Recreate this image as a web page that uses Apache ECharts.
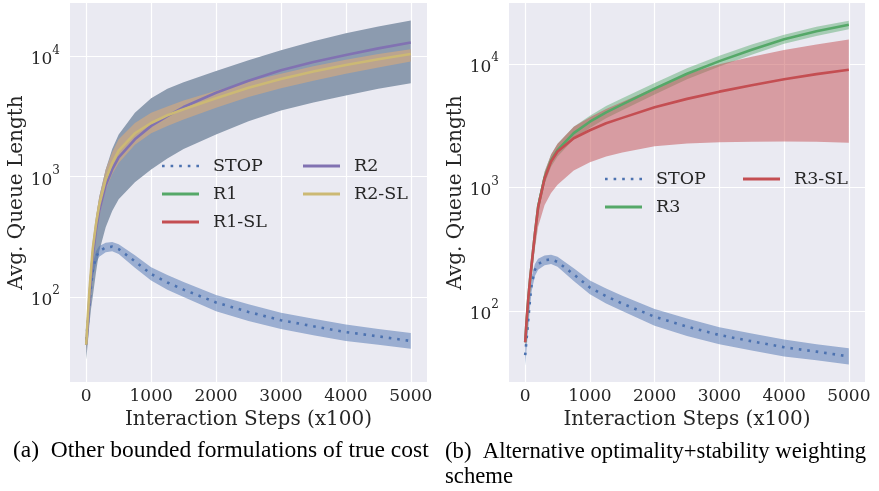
<!DOCTYPE html>
<html>
<head>
<meta charset="utf-8">
<script src="https://cdn.jsdelivr.net/npm/echarts@6/dist/echarts.min.js"></script>
<style>
  html, body { margin: 0; padding: 0; background: #ffffff; }
  #chart { width: 879px; height: 491px; }
</style>
</head>
<body>
<div id="chart"></div>
<script>
// Interaction steps (x100) at which every curve is sampled
const steps = [0, 25, 50, 75, 100, 150, 200, 300, 400, 500, 750, 1000, 1250, 1500, 2000, 2500, 3000, 3500, 4000, 4500, 5000];

// Tick labels
const xTicks = [0, 1000, 2000, 3000, 4000, 5000];
const yTicks = [100, 1000, 10000];

// STOP (shared baseline, both panels)
const stopMean  = [44, 62, 88, 125, 165, 215, 240, 258, 262, 250, 198, 155, 132, 115, 90, 75, 64, 57, 51, 47, 43];
const stopLower = [36, 52, 75, 108, 145, 192, 216, 235, 240, 228, 175, 137, 115, 100, 76, 63, 54, 48, 43, 40, 37];
const stopUpper = [52, 74, 104, 145, 190, 240, 265, 282, 286, 275, 222, 177, 152, 133, 104, 87, 74, 66, 59, 54, 50];

// Panel (a)
const r2Mean    = [40, 60, 100, 150, 220, 360, 520, 850, 1150, 1450, 2050, 2650, 3200, 3800, 5000, 6300, 7700, 9000, 10300, 11700, 13100];
const r2SlMean  = [40, 70, 115, 170, 250, 400, 580, 950, 1300, 1650, 2300, 2800, 3250, 3650, 4500, 5500, 6500, 7500, 8500, 9500, 10500];
const wideLower = [30, 42, 60, 80, 100, 160, 240, 380, 520, 650, 900, 1150, 1420, 1700, 2250, 2900, 3550, 4150, 4750, 5400, 6000];
const wideUpper = [45, 75, 125, 185, 270, 450, 680, 1150, 1700, 2250, 3400, 4500, 5400, 6100, 7600, 9300, 11300, 13400, 15600, 17800, 20000];
const r2SlLower = [35, 60, 95, 140, 200, 330, 470, 780, 1050, 1300, 1850, 2300, 2650, 3000, 3750, 4600, 5450, 6300, 7200, 8100, 9100];
const r2SlUpper = [45, 80, 135, 200, 290, 470, 680, 1150, 1600, 2050, 2800, 3400, 3850, 4300, 5200, 6200, 7200, 8300, 9400, 10500, 11500];

// Panel (b)
const r3Mean    = [56, 88, 130, 180, 240, 420, 700, 1200, 1650, 2000, 2750, 3400, 4050, 4700, 6300, 8300, 10500, 13000, 15800, 18300, 20700];
const r3Lower   = [50, 79, 116, 161, 215, 375, 625, 1070, 1470, 1780, 2450, 3030, 3620, 4200, 5650, 7500, 9500, 11800, 14500, 16800, 19000];
const r3Upper   = [62, 98, 145, 200, 265, 470, 780, 1340, 1850, 2250, 3100, 3800, 4550, 5250, 7000, 9200, 11600, 14300, 17200, 19900, 22300];
const r3SlMean  = [56, 88, 130, 180, 240, 420, 690, 1180, 1620, 1950, 2500, 2900, 3300, 3650, 4450, 5200, 5950, 6700, 7500, 8250, 8940];
const r3SlLower = [50, 76, 110, 148, 190, 320, 480, 720, 900, 1050, 1370, 1600, 1780, 1920, 2150, 2270, 2320, 2340, 2350, 2340, 2300];
const r3SlUpper = [62, 98, 145, 200, 265, 470, 780, 1340, 1850, 2250, 3100, 3700, 4300, 4900, 6400, 8300, 9900, 11400, 12900, 14300, 15700];

const BLUE = '#4C72B0', GREEN = '#55A868', RED = '#C44E52', PURPLE = '#8172B2', GOLD = '#CCB974';
const TEXT = '#262626';
const FONT = '"DejaVu Serif", serif';
const DOTS = 'path://M0,0h2.6v2.6h-2.6zM8.5,0h2.6v2.6h-2.6zM17,0h2.6v2.6h-2.6zM25.5,0h2.6v2.6h-2.6zM34,0h2.6v2.6h-2.6z';

const pairs = vals => steps.map((s, i) => [s, vals[i]]);

function band(name, lower, upper, fill, opacity, idx) {
  return {
    type: 'custom', name: name, xAxisIndex: idx, yAxisIndex: idx, silent: true, z: 1,
    data: [[0, 100]],
    renderItem: function (params, api) {
      const pts = [];
      for (let i = 0; i < steps.length; i++) pts.push(api.coord([steps[i], upper[i]]));
      for (let i = steps.length - 1; i >= 0; i--) pts.push(api.coord([steps[i], lower[i]]));
      return { type: 'polygon', shape: { points: pts }, style: { fill: fill, opacity: opacity } };
    }
  };
}

function line(name, vals, color, idx, dotted) {
  return {
    type: 'line', name: name, xAxisIndex: idx, yAxisIndex: idx, z: 2,
    data: pairs(vals), symbol: 'none', smooth: false,
    itemStyle: { color: color },
    lineStyle: dotted ? { color: color, width: 2.6, type: [2.6, 5.9], cap: 'butt' }
                      : { color: color, width: 2.6 }
  };
}

function xAxis(idx) {
  return {
    type: 'value', gridIndex: idx, min: -250, max: 5250, splitNumber: 5,
    axisLine: { show: false }, axisTick: { show: false },
    splitLine: { show: true, showMinLine: false, showMaxLine: false, lineStyle: { color: '#ffffff', width: 1.2 } },
    axisLabel: {
      margin: 6, color: TEXT, fontFamily: FONT, fontSize: 17,
      formatter: v => (xTicks.indexOf(v) >= 0 ? String(v) : '')
    },
    name: 'Interaction Steps (x100)', nameLocation: 'middle', nameGap: 23,
    nameTextStyle: { color: TEXT, fontFamily: FONT, fontSize: 20 }
  };
}

function yAxis(idx, lo, hi, gap) {
  return {
    type: 'log', logBase: 10, gridIndex: idx, min: lo, max: hi,
    axisLine: { show: false }, axisTick: { show: false },
    minorTick: { show: false }, minorSplitLine: { show: false },
    splitLine: { show: true, showMinLine: false, showMaxLine: false, lineStyle: { color: '#ffffff', width: 1.2 } },
    axisLabel: {
      margin: 10, color: TEXT, fontFamily: FONT,
      formatter: function (v) {
        const e = Math.round(Math.log10(v));
        const hit = yTicks.some(t => Math.abs(Math.log10(t) - Math.log10(v)) < 1e-6);
        return hit ? '{b|10}{s|' + e + '}' : '';
      },
      rich: {
        b: { fontFamily: FONT, fontSize: 17, color: TEXT, lineHeight: 24, verticalAlign: 'bottom' },
        s: { fontFamily: FONT, fontSize: 12, color: TEXT, lineHeight: 12, verticalAlign: 'top' }
      }
    },
    name: 'Avg. Queue Length', nameLocation: 'middle', nameGap: gap,
    nameTextStyle: { color: TEXT, fontFamily: FONT, fontSize: 20 }
  };
}

function legend(names, left, top) {
  return {
    data: names.map(n => ({ name: n, icon: n === 'STOP' ? DOTS : 'rect' })),
    orient: 'vertical', left: left, top: top, padding: 0,
    itemWidth: 37, itemHeight: 3, itemGap: 10, selectedMode: false,
    itemStyle: { borderWidth: 0 },
    textStyle: { color: TEXT, fontFamily: FONT, fontSize: 17.5, padding: [0, 0, 0, 9] }
  };
}

const chart = echarts.init(document.getElementById('chart'), null, { renderer: 'canvas' });
chart.setOption({
  animation: false,
  backgroundColor: '#ffffff',
  grid: [
    { left: 70, top: 3, width: 357, height: 379, show: true, backgroundColor: '#EAEAF2', borderWidth: 0 },
    { left: 509, top: 3, width: 356, height: 379, show: true, backgroundColor: '#EAEAF2', borderWidth: 0 }
  ],
  xAxis: [xAxis(0), xAxis(1)],
  yAxis: [yAxis(0, 19.6, 27900, 38), yAxis(1, 26.7, 31000, 38)],
  legend: [
    legend(['STOP', 'R1', 'R1-SL'], 162, 157),
    legend(['R2', 'R2-SL'], 303, 157),
    legend(['STOP', 'R3'], 605, 170),
    legend(['R3-SL'], 743, 170)
  ],
  series: [
    // panel (a)
    band('wide spread', wideLower, wideUpper, '#8C9BAF', 1, 0),
    band('R2-SL spread', r2SlLower, r2SlUpper, '#BBA48F', 1, 0),
    band('STOP spread a', stopLower, stopUpper, BLUE, 0.5, 0),
    line('STOP', stopMean, BLUE, 0, true),
    line('R1', [], GREEN, 0, false),
    line('R1-SL', [], RED, 0, false),
    line('R2', r2Mean, PURPLE, 0, false),
    line('R2-SL', r2SlMean, GOLD, 0, false),
    // panel (b)
    band('STOP spread b', stopLower, stopUpper, BLUE, 0.5, 1),
    band('R3 spread', r3Lower, r3Upper, GREEN, 0.45, 1),
    band('R3-SL spread', r3SlLower, r3SlUpper, RED, 0.5, 1),
    line('STOP', stopMean, BLUE, 1, true),
    line('R3', r3Mean, GREEN, 1, false),
    line('R3-SL', r3SlMean, RED, 1, false)
  ],
  graphic: [
    { type: 'text', left: 13, top: 439, style: { text: '(a)\u2002Other bounded formulations of true cost', font: '23.5px "Liberation Serif", serif', fill: '#000000' } },
    { type: 'text', left: 445, top: 440, style: { text: '(b)\u2002Alternative optimality+stability weighting\nscheme', font: '22.7px "Liberation Serif", serif', fill: '#000000', lineHeight: 25 } }
  ]
});
</script>
</body>
</html>
